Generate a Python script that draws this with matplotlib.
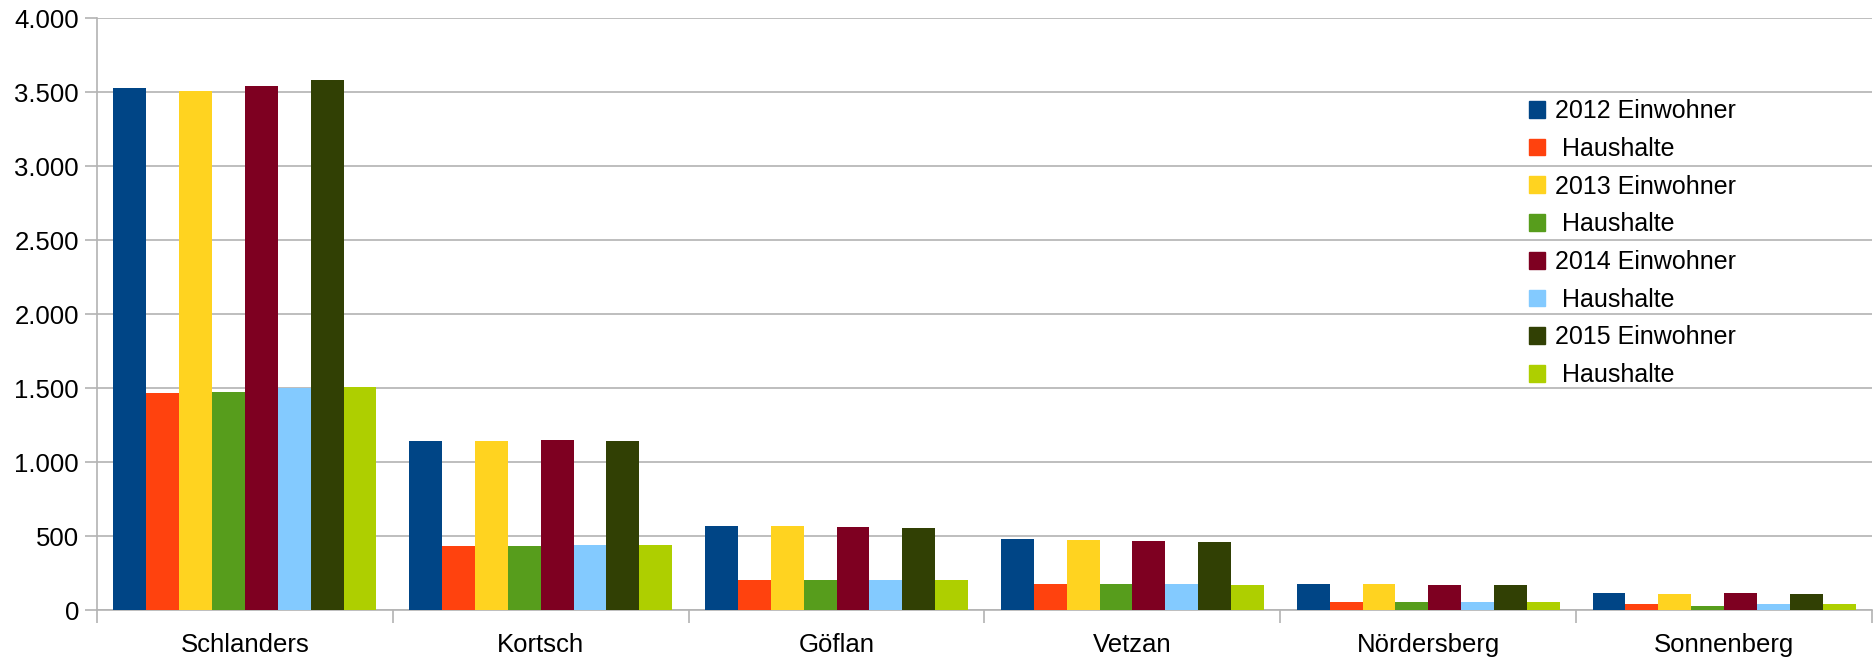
import numpy as np
import matplotlib.pyplot as plt
from matplotlib.patches import Patch
from matplotlib.ticker import FuncFormatter, FixedLocator

orte = ['Schlanders', 'Kortsch', 'Göflan', 'Vetzan', 'Nördersberg', 'Sonnenberg']

labels = ['2012 Einwohner', ' Haushalte', '2013 Einwohner', ' Haushalte',
          '2014 Einwohner', ' Haushalte', '2015 Einwohner', ' Haushalte']

ew_2012 = [3527, 1144, 570, 484, 180, 120]
hh_2012 = [1468, 432, 205, 179, 55, 40]
ew_2013 = [3507, 1144, 570, 477, 180, 113]
hh_2013 = [1475, 432, 205, 179, 55, 32]
ew_2014 = [3541, 1151, 563, 471, 173, 120]
hh_2014 = [1500, 438, 205, 179, 55, 40]
ew_2015 = [3581, 1144, 556, 464, 173, 113]
hh_2015 = [1509, 438, 205, 172, 55, 40]

series = [ew_2012, hh_2012, ew_2013, hh_2013, ew_2014, hh_2014, ew_2015, hh_2015]
farben = ['#004586', '#ff420e', '#ffd320', '#579d1c',
          '#7e0021', '#83caff', '#314004', '#aecf00']

plt.rcParams['font.family'] = ['Liberation Sans', 'DejaVu Sans']

fig = plt.figure(figsize=(18.74, 6.62), dpi=100)
ax = fig.add_axes([97 / 1874, 1 - 610.3 / 662, 1775 / 1874, 592 / 662])

x = np.arange(len(orte))
w = 1 / 9
for j, (vals, c) in enumerate(zip(series, farben)):
    ax.bar(x + (j - 3.5) * w, vals, width=w, color=c, zorder=3)

ax.set_xlim(-0.5, len(orte) - 0.5)
ax.set_ylim(0, 4000)
ax.set_yticks(np.arange(0, 4001, 500))
ax.yaxis.set_major_formatter(FuncFormatter(lambda v, p: f'{int(v):,}'.replace(',', '.')))
ax.grid(axis='y', color='#b3b3b3', linewidth=1.2, zorder=0)

ax.set_xticks(x)
ax.set_xticklabels(orte)
ax.xaxis.set_minor_locator(FixedLocator(np.arange(-0.5, len(orte), 1)))
ax.tick_params(axis='x', which='major', length=0, pad=16, labelsize=18.5)
ax.tick_params(axis='x', which='minor', length=9, color='#b3b3b3', width=1.2)
ax.tick_params(axis='y', length=9, color='#b3b3b3', width=1.2, labelsize=18.5, pad=4)

for s in ['top', 'right']:
    ax.spines[s].set_visible(False)
for s in ['left', 'bottom']:
    ax.spines[s].set_color('#b3b3b3')
    ax.spines[s].set_linewidth(1.2)

handles = [Patch(color=c) for c in farben]
fig.legend(handles, labels, loc='upper left', bbox_to_anchor=(1529 / 1874, 1 - 99 / 662),
           frameon=False, fontsize=18, handlelength=0.65, handleheight=0.65,
           handletextpad=0.4, labelspacing=0.55, borderpad=0, borderaxespad=0)

fig.savefig('out.png', dpi=100)
